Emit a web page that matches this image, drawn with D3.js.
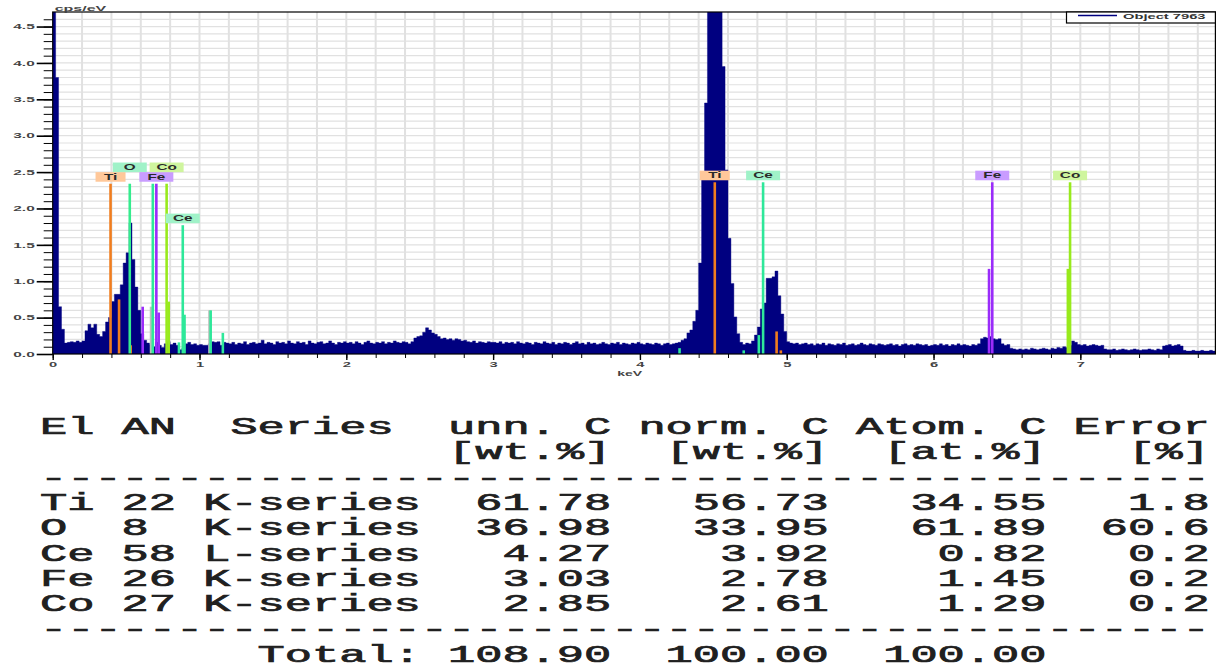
<!DOCTYPE html>
<html>
<head>
<meta charset="utf-8">
<script src="https://cdn.jsdelivr.net/npm/d3@7"></script>
<style>
body { margin: 0; background: #fff; }
svg { display: block; }
</style>
</head>
<body>
<div id="container"></div>
<script>
var WIDTH = 1217,
	HEIGHT = 669,
	PLOT_LEFT = 52.7,
	PLOT_RIGHT = 1215.4,
	PLOT_TOP = 12,
	PLOT_BOTTOM = 354;

// spectrum in cps/eV, 20 eV channels, one array per keV
var CHANNEL_KEV = 0.02;
var cps0 = [6.0, 3.8, 0.65, 0.34, 0.15, 0.16, 0.17, 0.16, 0.18, 0.16,
	0.18, 0.32, 0.41, 0.36, 0.41, 0.27, 0.24, 0.31, 0.44, 0.50,
	0.72, 0.82, 0.82, 0.95, 1.25, 1.39, 1.80, 1.30, 0.92, 0.60,
	0.28, 0.19, 0.15, 0.13, 0.10, 0.16, 0.12, 0.09, 0.14, 0.17,
	0.13, 0.15, 0.12, 0.06, 0.08, 0.14, 0.16, 0.13, 0.14, 0.12];
var cps1 = [0.13, 0.12, 0.12, 0.14, 0.17, 0.16, 0.17, 0.12, 0.16, 0.15,
	0.14, 0.16, 0.13, 0.15, 0.14, 0.17, 0.13, 0.15, 0.16, 0.14,
	0.15, 0.19, 0.14, 0.16, 0.15, 0.13, 0.17, 0.15, 0.16, 0.14,
	0.18, 0.15, 0.14, 0.17, 0.15, 0.16, 0.13, 0.18, 0.15, 0.14,
	0.16, 0.17, 0.14, 0.15, 0.18, 0.15, 0.13, 0.16, 0.15, 0.17];
var cps2 = [0.15, 0.16, 0.14, 0.17, 0.15, 0.13, 0.16, 0.18, 0.15, 0.14,
	0.16, 0.15, 0.17, 0.14, 0.16, 0.15, 0.18, 0.16, 0.15, 0.17,
	0.16, 0.14, 0.17, 0.22, 0.24, 0.25, 0.30, 0.36, 0.33, 0.29,
	0.27, 0.24, 0.21, 0.22, 0.20, 0.21, 0.19, 0.21, 0.20, 0.18,
	0.19, 0.17, 0.16, 0.18, 0.15, 0.17, 0.16, 0.15, 0.17, 0.16];
var cps3 = [0.16, 0.15, 0.17, 0.14, 0.16, 0.15, 0.16, 0.14, 0.17, 0.15,
	0.14, 0.16, 0.15, 0.13, 0.16, 0.15, 0.14, 0.17, 0.15, 0.14,
	0.16, 0.13, 0.15, 0.14, 0.16, 0.15, 0.13, 0.15, 0.17, 0.14,
	0.15, 0.13, 0.16, 0.14, 0.15, 0.13, 0.14, 0.16, 0.14, 0.13,
	0.15, 0.14, 0.16, 0.13, 0.15, 0.14, 0.13, 0.15, 0.14, 0.16];
var cps4 = [0.14, 0.13, 0.15, 0.14, 0.13, 0.15, 0.14, 0.12, 0.14, 0.15,
	0.13, 0.14, 0.15, 0.16, 0.19, 0.21, 0.29, 0.33, 0.45, 0.60,
	1.25, 2.50, 3.45, 6.0, 6.0, 6.0, 6.0, 6.0, 3.95, 2.53,
	1.59, 0.97, 0.51, 0.28, 0.16, 0.13, 0.15, 0.14, 0.18, 0.26,
	0.37, 0.62, 0.70, 1.04, 1.04, 1.06, 1.14, 0.80, 0.55, 0.31];
var cps5 = [0.17, 0.15, 0.14, 0.15, 0.13, 0.14, 0.15, 0.13, 0.14, 0.12,
	0.14, 0.13, 0.15, 0.12, 0.14, 0.13, 0.12, 0.14, 0.13, 0.15,
	0.12, 0.13, 0.14, 0.12, 0.13, 0.15, 0.13, 0.12, 0.14, 0.13,
	0.12, 0.14, 0.13, 0.12, 0.13, 0.14, 0.12, 0.13, 0.11, 0.13,
	0.14, 0.12, 0.13, 0.12, 0.14, 0.13, 0.12, 0.13, 0.11, 0.12];
var cps6 = [0.13, 0.12, 0.14, 0.12, 0.13, 0.11, 0.13, 0.12, 0.14, 0.12,
	0.13, 0.12, 0.11, 0.13, 0.12, 0.14, 0.21, 0.23, 0.22, 0.24,
	0.21, 0.20, 0.21, 0.14, 0.12, 0.13, 0.08, 0.07, 0.06, 0.07,
	0.06, 0.07, 0.06, 0.08, 0.07, 0.06, 0.07, 0.08, 0.07, 0.06,
	0.08, 0.07, 0.09, 0.08, 0.10, 0.09, 0.12, 0.18, 0.16, 0.13];
var cps7 = [0.12, 0.13, 0.11, 0.12, 0.13, 0.12, 0.11, 0.12, 0.07, 0.06,
	0.06, 0.07, 0.05, 0.06, 0.07, 0.06, 0.05, 0.06, 0.07, 0.06,
	0.05, 0.06, 0.06, 0.07, 0.06, 0.05, 0.07, 0.06, 0.11, 0.12,
	0.13, 0.11, 0.12, 0.13, 0.11, 0.05, 0.04, 0.04, 0.05, 0.04,
	0.04, 0.05, 0.04, 0.04, 0.05, 0.04];
var spectrum = [].concat(cps0, cps1, cps2, cps3, cps4, cps5, cps6, cps7);

// element line markers
var markerElement = ["Ti", "Ti", "Ti", "O", "Fe", "esc", "Ce", "Fe", "Fe", "Co", "Co", "Ce", "Ce", "Ce",
	"esc", "Ce", "Ce", "Ce", "Ti", "Ce", "Ce", "Ce", "Ti", "Ti", "Fe", "Fe", "Co", "Co"];
var markerKeV = [0.394, 0.452, 0.531, 0.525, 0.613, 0.670, 0.682, 0.706, 0.722, 0.776, 0.790, 0.860, 0.886, 0.898,
	1.068, 1.076, 1.159, 4.270, 4.510, 4.707, 4.810, 4.839, 4.931, 4.960, 6.378, 6.400, 6.915, 6.930];
var markerHeight = [2.34, 0.75, 0.12, 2.34, 0.65, 0.65, 2.34, 2.34, 0.57, 2.34, 0.72, 0.16, 1.77, 0.54,
	0.60, 0.60, 0.29, 0.08, 2.36, 0.05, 0.26, 2.36, 0.31, 0.05, 1.17, 2.36, 1.17, 2.36];

var tagElement = ["Ti", "O", "Fe", "Co", "Ce", "Ti", "Ce", "Fe", "Co"];
var tagKeV = [0.394, 0.525, 0.706, 0.776, 0.886, 4.510, 4.839, 6.400, 6.930];
var tagHeight = [2.34, 2.34, 2.34, 2.34, 1.77, 2.36, 2.36, 2.36, 2.36];
var tagRow = [0, 1, 0, 1, 0, 0, 0, 0, 0];

var yMajorTicks = [0, 0.5, 1, 1.5, 2, 2.5, 3, 3.5, 4, 4.5];
var xMajorTicks = [0, 1, 2, 3, 4, 5, 6, 7];
var legendName = "Object 7963";

// quantification table
var tableEl = ["Ti", "O", "Ce", "Fe", "Co"];
var tableAN = ["22", "8", "58", "26", "27"];
var tableSeries = ["K-series", "K-series", "L-series", "K-series", "K-series"];
var tableUnn = [61.78, 36.98, 4.27, 3.03, 2.85];
var tableNorm = [56.73, 33.95, 3.92, 2.78, 2.61];
var tableAtom = [34.55, 61.89, 0.82, 1.45, 1.29];
var tableError = [1.8, 60.6, 0.2, 0.2, 0.2];
var tableTotals = [108.90, 100.00, 100.00];

var lineColor = {Ti: "#f07d1e", O: "#35ec8e", Fe: "#9a2cfa", Co: "#98ea1c", Ce: "#2ee89a", esc: "#bcc0bc"};
var tagColor = {Ti: "#ffc89a", O: "#a0f2c8", Fe: "#c99cff", Co: "#cff59e", Ce: "#a0f2c8"};

var xScale = d3.scaleLinear().domain([0, 7.92]).range([PLOT_LEFT, PLOT_RIGHT]);
var yScale = d3.scaleLinear().domain([0, 4.7]).range([PLOT_BOTTOM, PLOT_TOP]);

var translate = function (x, y) {
	return "translate(" + x + "," + y + ")";
};

function stretch(sel, factor) {
	sel.each(function () {
		var len = this.getComputedTextLength();
		d3.select(this).attr('textLength', len * factor).attr('lengthAdjust', 'spacingAndGlyphs');
	});
}

function drawGrid(svg) {
	var vLines = d3.range(1, 40).map(function (i) { return i * 0.2; });
	var hLines = d3.range(1, 47).map(function (i) { return i * 0.1; });
	svg.append('g').selectAll('line').data(vLines).enter()
		.append('line')
		.attr('x1', function (d) { return xScale(d); })
		.attr('x2', function (d) { return xScale(d); })
		.attr('y1', PLOT_TOP).attr('y2', PLOT_BOTTOM)
		.attr('stroke', '#e1e1e1').attr('stroke-width', 2);
	svg.append('g').selectAll('line').data(hLines).enter()
		.append('line')
		.attr('x1', PLOT_LEFT).attr('x2', PLOT_RIGHT)
		.attr('y1', function (d) { return yScale(d); })
		.attr('y2', function (d) { return yScale(d); })
		.attr('stroke', '#e1e1e1').attr('stroke-width', 1.2);
}

function drawSpectrum(svg) {
	var pts = spectrum.map(function (v, i) { return {e: i * CHANNEL_KEV, v: v}; });
	pts.push({e: spectrum.length * CHANNEL_KEV, v: spectrum[spectrum.length - 1]});
	var area = d3.area()
		.x(function (d) { return xScale(d.e); })
		.y0(yScale(0))
		.y1(function (d) { return yScale(d.v); })
		.curve(d3.curveStepAfter);
	svg.append('path')
		.datum(pts)
		.attr('d', area)
		.attr('clip-path', 'url(#plotClip)')
		.attr('fill', '#000080')
		.attr('stroke', '#000080')
		.attr('stroke-width', 0.4);
}

function drawMarkers(svg) {
	svg.append('g').selectAll('line').data(markerKeV).enter()
		.append('line')
		.attr('x1', function (d) { return xScale(d); })
		.attr('x2', function (d) { return xScale(d); })
		.attr('y1', yScale(0))
		.attr('y2', function (d, i) { return yScale(markerHeight[i]); })
		.attr('stroke', function (d, i) { return lineColor[markerElement[i]]; })
		.attr('stroke-width', 2.6);

	var tags = svg.append('g').selectAll('g').data(tagKeV).enter()
		.append('g')
		.attr('transform', function (d, i) {
			var bottom = yScale(tagHeight[i]) - 2 - tagRow[i] * 9.6;
			return translate(xScale(d), bottom);
		});
	tags.append('rect')
		.attr('x', function (d, i) { return tagElement[i] == 'Ti' ? -15 : -17; })
		.attr('y', -9.6)
		.attr('width', function (d, i) { return tagElement[i] == 'Ti' ? 30 : 34; })
		.attr('height', 9.6)
		.attr('fill', function (d, i) { return tagColor[tagElement[i]]; });
	var txt = tags.append('text')
		.attr('x', 0).attr('y', -2.1)
		.attr('text-anchor', 'middle')
		.attr('font-family', 'Liberation Sans, Arial, sans-serif')
		.attr('font-weight', 'bold')
		.attr('font-size', 8.5)
		.attr('fill', '#2a2a2a')
		.text(function (d, i) { return tagElement[i]; });
	stretch(txt, 1.8);
}

function drawAxis(svg) {
	var minorY = d3.range(0, 47).map(function (i) { return i * 0.1; });
	var minorX = d3.range(0, 40).map(function (i) { return i * 0.2; });

	svg.append('g')
		.attr('transform', translate(PLOT_LEFT, 0))
		.call(d3.axisLeft(yScale).tickValues(minorY).tickSize(9).tickFormat(''))
		.call(function (g) { g.select('.domain').remove(); });
	var yAxis = svg.append('g')
		.attr('transform', translate(PLOT_LEFT, 0))
		.call(d3.axisLeft(yScale).tickValues(yMajorTicks).tickSize(16).tickPadding(2).tickFormat(d3.format('.1f')));
	yAxis.select('.domain').remove();
	yAxis.selectAll('line').attr('stroke-width', 1.6);
	yAxis.selectAll('text')
		.attr('font-family', 'Liberation Sans, Arial, sans-serif')
		.attr('font-weight', 'bold')
		.attr('font-size', 7)
		.attr('fill', '#444');
	stretch(yAxis.selectAll('text'), 2.2);

	svg.append('g')
		.attr('transform', translate(0, PLOT_BOTTOM))
		.call(d3.axisBottom(xScale).tickValues(minorX).tickSize(4).tickFormat(''))
		.call(function (g) { g.select('.domain').remove(); });
	var xAxis = svg.append('g')
		.attr('transform', translate(0, PLOT_BOTTOM))
		.call(d3.axisBottom(xScale).tickValues(xMajorTicks).tickSize(6).tickPadding(2).tickFormat(d3.format('d')));
	xAxis.select('.domain').remove();
	xAxis.selectAll('line').attr('stroke-width', 1.4);
	xAxis.selectAll('text')
		.attr('font-family', 'Liberation Sans, Arial, sans-serif')
		.attr('font-weight', 'bold')
		.attr('font-size', 7)
		.attr('fill', '#444');
	stretch(xAxis.selectAll('text'), 2.1);

	// frame
	svg.append('rect')
		.attr('x', PLOT_LEFT).attr('y', PLOT_TOP)
		.attr('width', PLOT_RIGHT - PLOT_LEFT).attr('height', PLOT_BOTTOM - PLOT_TOP)
		.attr('fill', 'none').attr('stroke', '#000').attr('stroke-width', 1.2);

	var yLabel = svg.append('text')
		.attr('x', PLOT_LEFT + 2).attr('y', 11)
		.attr('font-family', 'Liberation Sans, Arial, sans-serif')
		.attr('font-weight', 'bold').attr('font-size', 8).attr('fill', '#444')
		.text('cps/eV');
	stretch(yLabel, 2.0);
	var xLabel = svg.append('text')
		.attr('x', xScale(3.93)).attr('y', 376)
		.attr('text-anchor', 'middle')
		.attr('font-family', 'Liberation Sans, Arial, sans-serif')
		.attr('font-weight', 'bold').attr('font-size', 7).attr('fill', '#444')
		.text('keV');
	stretch(xLabel, 2.0);
}

function drawLegend(svg) {
	var g = svg.append('g');
	g.append('rect')
		.attr('x', 1066.5).attr('y', PLOT_TOP)
		.attr('width', PLOT_RIGHT - 1066.5).attr('height', 11)
		.attr('fill', '#fff').attr('stroke', '#000').attr('stroke-width', 1.2);
	g.append('line')
		.attr('x1', 1078).attr('x2', 1117).attr('y1', 15.5).attr('y2', 15.5)
		.attr('stroke', '#000080').attr('stroke-width', 1.4);
	var t = g.append('text')
		.attr('x', 1123).attr('y', 18.5)
		.attr('font-family', 'Liberation Sans, Arial, sans-serif')
		.attr('font-weight', 'bold').attr('font-size', 7).attr('fill', '#333')
		.text(legendName);
	stretch(t, 2.1);
}

function drawTable(svg) {
	var NB = '\u00a0';
	var lines = [];
	lines.push('El AN  Series  unn. C norm. C Atom. C Error');
	lines.push(' '.repeat(15) + '[wt.%]  [wt.%]  [at.%]   [%]');
	lines.push('-'.repeat(43));
	tableEl.forEach(function (el, i) {
		lines.push(el.padEnd(3) + tableAN[i].padEnd(3) + tableSeries[i].padEnd(8) +
			tableUnn[i].toFixed(2).padStart(7) + tableNorm[i].toFixed(2).padStart(8) +
			tableAtom[i].toFixed(2).padStart(8) + tableError[i].toFixed(1).padStart(6));
	});
	lines.push('-'.repeat(43));
	lines.push(' '.repeat(8) + 'Total:' + tableTotals[0].toFixed(2).padStart(7) +
		tableTotals[1].toFixed(2).padStart(8) + tableTotals[2].toFixed(2).padStart(8));

	var CHAR_W = 27.2, LINE_H = 25.3;
	svg.append('g').selectAll('text').data(lines).enter()
		.append('text')
		.attr('x', 40)
		.attr('y', function (d, i) { return 434 + i * LINE_H; })
		.attr('font-family', 'Liberation Mono, DejaVu Sans Mono, monospace')
		.attr('font-size', 24)
		.attr('fill', '#202020')
		.attr('stroke', '#202020')
		.attr('stroke-width', 0.7)
		.attr('textLength', function (d) { return d.length * CHAR_W; })
		.attr('lengthAdjust', 'spacingAndGlyphs')
		.text(function (d) { return d.replace(/ /g, NB); });
}

function drawChart() {
	var svg = d3.select('#container')
		.append('svg')
		.attr('width', WIDTH)
		.attr('height', HEIGHT);
	svg.append('rect').attr('width', WIDTH).attr('height', HEIGHT).attr('fill', '#fff');
	svg.append('clipPath').attr('id', 'plotClip')
		.append('rect')
		.attr('x', PLOT_LEFT).attr('y', PLOT_TOP)
		.attr('width', PLOT_RIGHT - PLOT_LEFT).attr('height', PLOT_BOTTOM - PLOT_TOP);
	drawGrid(svg);
	drawSpectrum(svg);
	drawMarkers(svg);
	drawAxis(svg);
	drawLegend(svg);
	drawTable(svg);
}

window.onload = function () {
	drawChart();
};
</script>
</body>
</html>
